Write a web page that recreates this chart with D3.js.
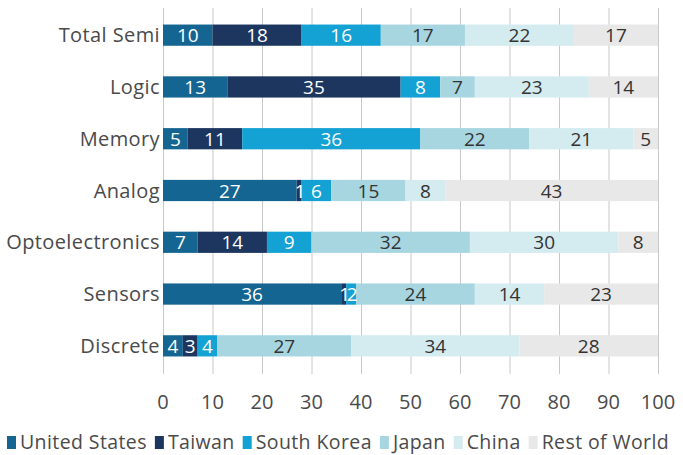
<!DOCTYPE html>
<html>
<head>
<meta charset="utf-8">
<script src="https://cdn.jsdelivr.net/npm/d3@7"></script>
<style>
body { margin: 0; background: #fff; }
text { font-family: "Open Sans", sans-serif; }
</style>
</head>
<body>
<script>
'use strict';

const width = 683;
const height = 455;

const categories = ['Total Semi', 'Logic', 'Memory', 'Analog', 'Optoelectronics', 'Sensors', 'Discrete'];
const regions = ['United States', 'Taiwan', 'South Korea', 'Japan', 'China', 'Rest of World'];
const unitedStates = [10, 13, 5, 27, 7, 36, 4];
const taiwan = [18, 35, 11, 1, 14, 1, 3];
const southKorea = [16, 8, 36, 6, 9, 2, 4];
const japan = [17, 7, 22, 15, 32, 24, 27];
const china = [22, 23, 21, 8, 30, 14, 34];
const restOfWorld = [17, 14, 5, 43, 8, 23, 28];
const xTicks = [0, 10, 20, 30, 40, 50, 60, 70, 80, 90, 100];

const colors = ['#146591', '#1c365f', '#14a1d3', '#a7d6e1', '#d4ebf0', '#e8e8e8'];
const textColors = ['#fff', '#fff', '#fff', '#333', '#333', '#333'];

const series = [unitedStates, taiwan, southKorea, japan, china, restOfWorld];

let table = categories.map(function (c, i) {
    let row = { cat: c };
    regions.forEach(function (r, j) { row[r] = series[j][i]; });
    return row;
});

let stacked = d3.stack().keys(regions)(table);

const margin = { top: 9, right: 25, bottom: 83, left: 163 };

let x = d3.scaleLinear()
    .domain([0, 100])
    .range([margin.left, width - margin.right]);

let y = d3.scaleBand()
    .domain(categories)
    .range([margin.top, height - margin.bottom])
    .paddingInner(0.59)
    .paddingOuter(0.3);

let svg = d3.select('body').append('svg')
    .attr('width', width)
    .attr('height', height);

// gridlines
svg.append('g')
    .selectAll('line')
    .data(xTicks).enter()
    .append('line')
    .attr('x1', d => x(d) + 0.5)
    .attr('x2', d => x(d) + 0.5)
    .attr('y1', 8)
    .attr('y2', 374)
    .style('stroke', '#c8c8c8')
    .style('stroke-width', 1);

// tick labels
svg.append('g')
    .selectAll('text')
    .data(xTicks).enter()
    .append('text')
    .attr('x', d => x(d))
    .attr('y', 409)
    .attr('text-anchor', 'middle')
    .style('font-size', '20px')
    .style('fill', '#4a4a4a')
    .text(d => d);

// bars
let groups = svg.append('g')
    .selectAll('g')
    .data(stacked).enter()
    .append('g')
    .style('fill', (d, i) => colors[i]);

groups.selectAll('rect')
    .data(d => d).enter()
    .append('rect')
    .attr('x', d => x(d[0]))
    .attr('width', d => x(d[1]) - x(d[0]))
    .attr('y', d => y(d.data.cat))
    .attr('height', y.bandwidth());

// value labels
stacked.forEach(function (s, i) {
    svg.append('g')
        .selectAll('text')
        .data(s).enter()
        .append('text')
        .attr('x', d => (x(d[0]) + x(d[1])) / 2)
        .attr('y', d => y(d.data.cat) + y.bandwidth() / 2 + 7)
        .attr('text-anchor', 'middle')
        .style('font-size', '19px')
        .style('letter-spacing', d => (d[1] - d[0]) < 3 ? '-2px' : null)
        .style('fill', textColors[i])
        .text(d => d[1] - d[0]);
});

// category labels
svg.append('g')
    .selectAll('text')
    .data(categories).enter()
    .append('text')
    .attr('x', margin.left - 3)
    .attr('y', d => y(d) + y.bandwidth() / 2 + 7)
    .attr('text-anchor', 'end')
    .style('font-size', '20px')
    .style('letter-spacing', '0.4px')
    .style('fill', '#4a4a4a')
    .text(d => d);

// legend
let legend = svg.append('g');
let lx = 7;
regions.forEach(function (r, i) {
    legend.append('rect')
        .attr('x', lx)
        .attr('y', 436)
        .attr('width', 9)
        .attr('height', 13)
        .style('fill', colors[i]);
    let t = legend.append('text')
        .attr('x', lx + 13)
        .attr('y', 449)
        .style('font-size', '19.5px')
        .style('letter-spacing', '0.4px')
        .style('fill', '#4a4a4a')
        .text(r);
    lx += 13 + t.node().getComputedTextLength() + 8;
});
</script>
</body>
</html>
